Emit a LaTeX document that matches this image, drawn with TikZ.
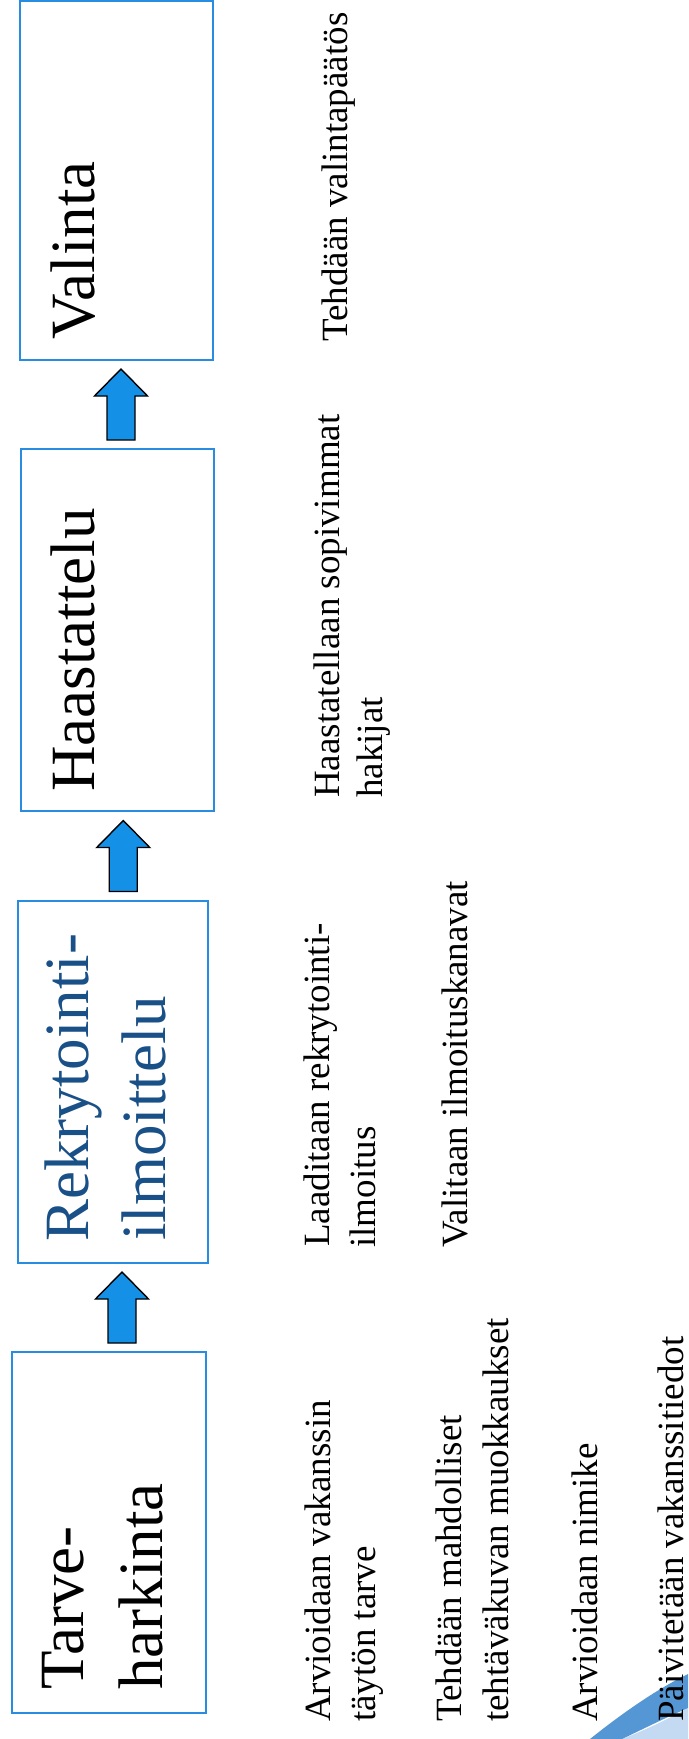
\documentclass[tikz,border=0pt]{standalone}
\usepackage{fontspec}
\setmainfont{Liberation Serif}
\usetikzlibrary{calc}
\definecolor{boxblue}{RGB}{40,140,225}
\definecolor{arrowblue}{RGB}{20,145,230}
\definecolor{titleblue}{RGB}{25,80,135}
\definecolor{swooshdark}{RGB}{85,150,212}
\definecolor{swooshlight}{RGB}{195,218,242}
\tikzset{
  stagebox/.style={draw=boxblue, line width=1.8pt, fill=white, rectangle, inner sep=0pt, outer sep=0pt},
  stagetitle/.style={rotate=90, anchor=base west, inner sep=0pt, font=\fontsize{63}{78}\selectfont},
  bodytext/.style={rotate=90, anchor=base west, inner sep=0pt, font=\fontsize{37}{46}\selectfont},
  flowarrow/.style={draw=black, line width=1.4pt, fill=arrowblue, line join=miter},
  uparrow/.pic={\draw[flowarrow] (-14,-35.5) -- (-14,8.5) -- (-26.5,8.5) -- (0,35.5) -- (26.5,8.5) -- (14,8.5) -- (14,-35.5) -- cycle;}
}
\begin{document}
\begin{tikzpicture}[x=1pt,y=1pt]
\useasboundingbox (0,0) rectangle (688,-1739);
\clip (0,0) rectangle (688,-1739);
\fill[white] (0,0) rectangle (688,-1739);

% decorative swoosh, bottom right
\fill[swooshlight] (622,-1739) .. controls (650,-1728) and (670,-1718) .. (688,-1708) -- (688,-1739) -- cycle;
\fill[swooshdark] (590,-1739) .. controls (620,-1715) and (655,-1690) .. (688,-1674) -- (688,-1708) .. controls (665,-1718) and (645,-1728) .. (622,-1739) -- cycle;

% stage boxes
\node[stagebox, minimum width=193pt, minimum height=359pt] (valinta) at (116.5,-180.5) {};
\node[stagebox, minimum width=193pt, minimum height=362pt] (haast) at (117.5,-630) {};
\node[stagebox, minimum width=190pt, minimum height=362pt] (rekry) at (113,-1082) {};
\node[stagebox, minimum width=194pt, minimum height=361pt] (tarve) at (109,-1532.5) {};

% stage titles
\node[stagetitle] (tValinta) at (94,-340) {Valinta};
\node[stagetitle] (tHaast) at (94,-792) {Haastattelu};
\node[stagetitle, text=titleblue] (tRekryA) at (88,-1242) {Rekrytointi-};
\node[stagetitle, text=titleblue] (tRekryB) at (165,-1241) {ilmoittelu};
\node[stagetitle] (tTarveA) at (83,-1690) {Tarve-};
\node[stagetitle] (tTarveB) at (162,-1690) {harkinta};

% arrows between stages
\pic at ($(tarve.north)!0.5!(rekry.south)+(11,0)$) {uparrow};
\pic at ($(rekry.north)!0.5!(haast.south)+(8,0)$) {uparrow};
\pic at ($(haast.north)!0.5!(valinta.south)+(4,0)$) {uparrow};

% column 1
\node[bodytext] (c1a) at (330,-1722) {Arvioidaan vakanssin};
\node[bodytext] (c1b) at (375,-1722) {täytön tarve};
\node[bodytext] (c1c) at (461,-1722) {Tehdään mahdolliset};
\node[bodytext] (c1d) at (508,-1722) {tehtäväkuvan muokkaukset};
\node[bodytext] (c1e) at (597,-1722) {Arvioidaan nimike};
\node[bodytext, text depth=0pt] (c1f) at (683,-1722) {Päivitetään vakanssitiedot};

% column 2
\node[bodytext] (c2a) at (329,-1247) {Laaditaan rekrytointi-};
\node[bodytext] (c2b) at (375,-1248) {ilmoitus};
\node[bodytext] (c2c) at (467,-1248) {Valitaan ilmoituskanavat};

% column 3
\node[bodytext] (c3a) at (339,-798) {Haastatellaan sopivimmat};
\node[bodytext] (c3b) at (382,-798) {hakijat};

% column 4
\node[bodytext] (c4a) at (347,-342) {Tehdään valintapäätös};
\end{tikzpicture}
\end{document}
